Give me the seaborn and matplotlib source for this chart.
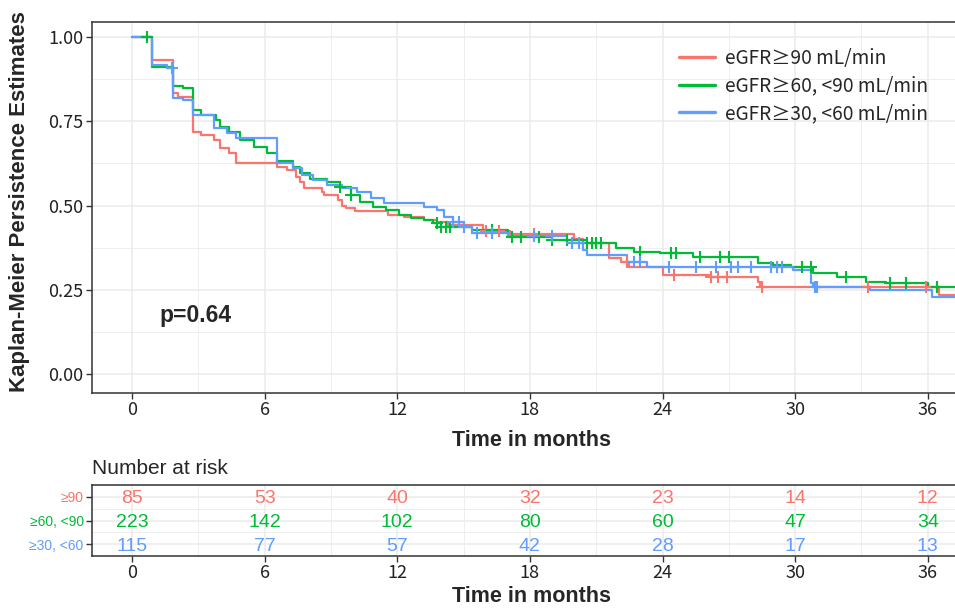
import numpy as np
import pandas as pd
import matplotlib
matplotlib.use('Agg')
import matplotlib.pyplot as plt
import seaborn as sns
from matplotlib.ticker import MultipleLocator
from matplotlib.lines import Line2D

# ---- data ----
groups = ['eGFR≥90 mL/min', 'eGFR≥60, <90 mL/min', 'eGFR≥30, <60 mL/min']
short_names = ['≥90', '≥60, <90', '≥30, <60']
colors = ['#F8766D', '#00BA38', '#619CFF']

t_90 = [0, 0.9, 1.85, 2.1, 2.75, 3.1, 3.7, 4.0, 4.4, 4.7, 6.55, 7.0, 7.4, 7.6, 7.8, 8.6, 8.7,
        9.3, 9.5, 9.7, 10.1, 11.6, 12.3, 13.2, 13.8, 14.3, 15.9, 17.1, 20.0, 20.4, 21.6, 22.1,
        22.5, 24.0, 26.1, 28.3, 28.4, 36.5, 38.0]
s_90 = [1.0, 0.932, 0.834, 0.822, 0.718, 0.709, 0.694, 0.67, 0.656, 0.626, 0.614, 0.605, 0.585,
        0.57, 0.552, 0.54, 0.531, 0.516, 0.50, 0.493, 0.484, 0.472, 0.466, 0.457, 0.451, 0.442,
        0.425, 0.415, 0.40, 0.389, 0.345, 0.332, 0.318, 0.294, 0.288, 0.273, 0.258, 0.234, 0.234]
cens_90 = [16.0, 16.6, 18.2, 22.4, 24.5, 26.2, 26.5, 26.9, 28.5, 33.3, 35.9, 36.4]

t_60 = [0, 0.9, 1.85, 2.3, 2.75, 3.1, 3.8, 4.0, 4.4, 4.9, 5.5, 6.1, 6.55, 7.3, 7.6, 8.05, 8.8,
        9.4, 9.9, 10.3, 10.9, 11.5, 12.1, 12.6, 13.2, 13.6, 14.0, 15.4, 17.0, 19.0, 20.6, 21.9,
        22.7, 23.9, 25.4, 28.3, 29.0, 29.8, 30.8, 31.9, 33.2, 34.1, 36.0, 38.0]
s_60 = [1.0, 0.911, 0.855, 0.848, 0.783, 0.769, 0.754, 0.733, 0.718, 0.694, 0.674, 0.656, 0.632,
        0.614, 0.596, 0.58, 0.57, 0.555, 0.531, 0.51, 0.496, 0.487, 0.472, 0.463, 0.457, 0.448,
        0.436, 0.427, 0.407, 0.398, 0.389, 0.374, 0.362, 0.359, 0.347, 0.33, 0.323, 0.318, 0.30,
        0.288, 0.273, 0.27, 0.258, 0.258]
cens_60 = [0.7, 9.4, 9.9, 13.8, 14.0, 14.2, 14.4, 16.3, 17.2, 17.6, 18.4, 19.0, 19.7, 20.6, 20.8,
           21.0, 21.2, 23.0, 24.4, 24.6, 25.7, 26.6, 27.0, 30.3, 30.7, 32.3, 34.3, 35.0, 36.4]

t_30 = [0, 0.9, 1.6, 1.85, 2.3, 2.75, 3.7, 4.3, 4.7, 6.55, 7.3, 7.7, 8.2, 8.8, 9.5, 10.2, 10.8,
        11.4, 13.2, 13.8, 14.1, 14.5, 15.0, 15.4, 17.0, 19.7, 20.4, 20.6, 22.4, 23.3, 29.9, 30.7,
        30.8, 33.4, 36.2, 38.0]
s_30 = [1.0, 0.917, 0.908, 0.819, 0.813, 0.769, 0.73, 0.715, 0.70, 0.626, 0.611, 0.59, 0.576,
        0.56, 0.552, 0.54, 0.522, 0.507, 0.496, 0.487, 0.466, 0.45, 0.436, 0.418, 0.41, 0.389,
        0.368, 0.353, 0.332, 0.318, 0.309, 0.27, 0.258, 0.249, 0.228, 0.228]
cens_30 = [1.8, 14.5, 14.8, 15.0, 15.6, 16.3, 18.2, 19.0, 19.9, 20.2, 22.7, 23.0, 24.3, 25.5,
           26.4, 27.1, 27.4, 28.0, 28.9, 29.2, 29.4, 30.9, 31.0]

risk_times = [0, 6, 12, 18, 24, 30, 36]
risk_90 = [85, 53, 40, 32, 23, 14, 12]
risk_60 = [223, 142, 102, 80, 60, 47, 34]
risk_30 = [115, 77, 57, 42, 28, 17, 13]

p_text = 'p=0.64'

# ---- build tables ----
curves = [(t_90, s_90, cens_90), (t_60, s_60, cens_60), (t_30, s_30, cens_30)]
rows, cens_rows = [], []
for g, (t, s, c) in zip(groups, curves):
    for ti, si in zip(t, s):
        rows.append({'time': ti, 'surv': si, 'group': g})
    t_arr, s_arr = np.array(t), np.array(s)
    for ci in c:
        idx = np.searchsorted(t_arr, ci, side='right') - 1
        cens_rows.append({'time': ci, 'surv': s_arr[idx], 'group': g})
df = pd.DataFrame(rows)
df_cens = pd.DataFrame(cens_rows)

sns.set_theme(style='white')
tick_font = ['Noto Sans CJK JP', 'DejaVu Sans']
bold_font = ['Liberation Sans', 'DejaVu Sans']
palette = dict(zip(groups, colors))

fig = plt.figure(figsize=(9.55, 6.09), dpi=100)
W, H = 955, 609
x_lo, x_hi = -1.81, 38.0
ax_left, ax_right = 92, 972

def fig_rect(l, t, r, b):
    return [l / W, 1 - b / H, (r - l) / W, (b - t) / H]

ax = fig.add_axes(fig_rect(ax_left, 22, ax_right, 393))
axr = fig.add_axes(fig_rect(ax_left, 485, ax_right, 556))

grid_c = '#EBEBEB'
for a in (ax, axr):
    a.set_xlim(x_lo, x_hi)
    a.xaxis.set_major_locator(MultipleLocator(6))
    a.xaxis.set_minor_locator(MultipleLocator(3))
    a.grid(True, which='major', color=grid_c, linewidth=1.1, zorder=0)
    a.grid(True, which='minor', color=grid_c, linewidth=0.6, zorder=0)
    a.set_axisbelow(True)
    for sp in a.spines.values():
        sp.set_color('#333333')
        sp.set_linewidth(1.1)
    a.tick_params(axis='both', which='major', length=4, width=1, color='#333333',
                  labelsize=13, labelcolor='#222222', pad=2, bottom=True, left=True)
    a.tick_params(axis='both', which='minor', length=0)

# main KM curves
sns.lineplot(data=df, x='time', y='surv', hue='group', hue_order=groups, palette=palette,
             drawstyle='steps-post', estimator=None, sort=False, linewidth=1.6,
             legend=False, ax=ax, zorder=3)
sns.scatterplot(data=df_cens, x='time', y='surv', hue='group', hue_order=groups,
                palette=palette, marker='+', s=75, linewidth=1.5, legend=False, ax=ax, zorder=4)

ax.set_ylim(-0.056, 1.0445)
ax.yaxis.set_major_locator(MultipleLocator(0.25))
ax.yaxis.set_minor_locator(MultipleLocator(0.125))
ax.set_yticks([0, 0.25, 0.5, 0.75, 1.0])
ax.set_yticklabels(['0.00', '0.25', '0.50', '0.75', '1.00'], family=tick_font)
ax.set_xticks(risk_times)
ax.set_xticklabels([str(v) for v in risk_times], family=tick_font)
ax.set_xlabel('Time in months', family=bold_font, fontweight='bold', fontsize=15.5, labelpad=8)
ax.set_ylabel('Kaplan-Meier Persistence Estimates', family=bold_font, fontweight='bold',
              fontsize=16)
ax.yaxis.set_label_coords(-0.071, 0.517)
ax.text(1.25, 0.175, p_text, family=bold_font, fontweight='bold', fontsize=16.5,
        ha='left', va='center')

handles = [Line2D([0], [0], color=c, linewidth=2.4) for c in colors]
leg = fig.legend(handles, groups, loc='upper left', bbox_to_anchor=(679 / W, 1 - 48 / H),
                 frameon=False, prop={'family': tick_font, 'size': 13.8}, handlelength=1.9,
                 handletextpad=0.5, labelspacing=0.34, borderpad=0, borderaxespad=0)

# risk table
axr.set_ylim(3.5, 0.5)
axr.set_yticks([1, 2, 3])
axr.set_yticklabels(short_names, family=bold_font, fontsize=10)
for lab, c in zip(axr.get_yticklabels(), colors):
    lab.set_color(c)
axr.yaxis.set_minor_locator(MultipleLocator(0.5))
axr.set_xticks(risk_times)
axr.set_xticklabels([str(v) for v in risk_times], family=tick_font)
for row, (vals, c) in enumerate(zip([risk_90, risk_60, risk_30], colors), start=1):
    for tv, n in zip(risk_times, vals):
        axr.text(tv, row, str(n), color=c, family=bold_font, fontsize=14,
                 ha='center', va='center_baseline')
axr.set_xlabel('Time in months', family=bold_font, fontweight='bold', fontsize=15.5, labelpad=3)
axr.set_ylabel('')
axr.set_title('Number at risk', loc='left', family=bold_font, fontsize=15, pad=8)

fig.savefig('out.png', dpi=100)
